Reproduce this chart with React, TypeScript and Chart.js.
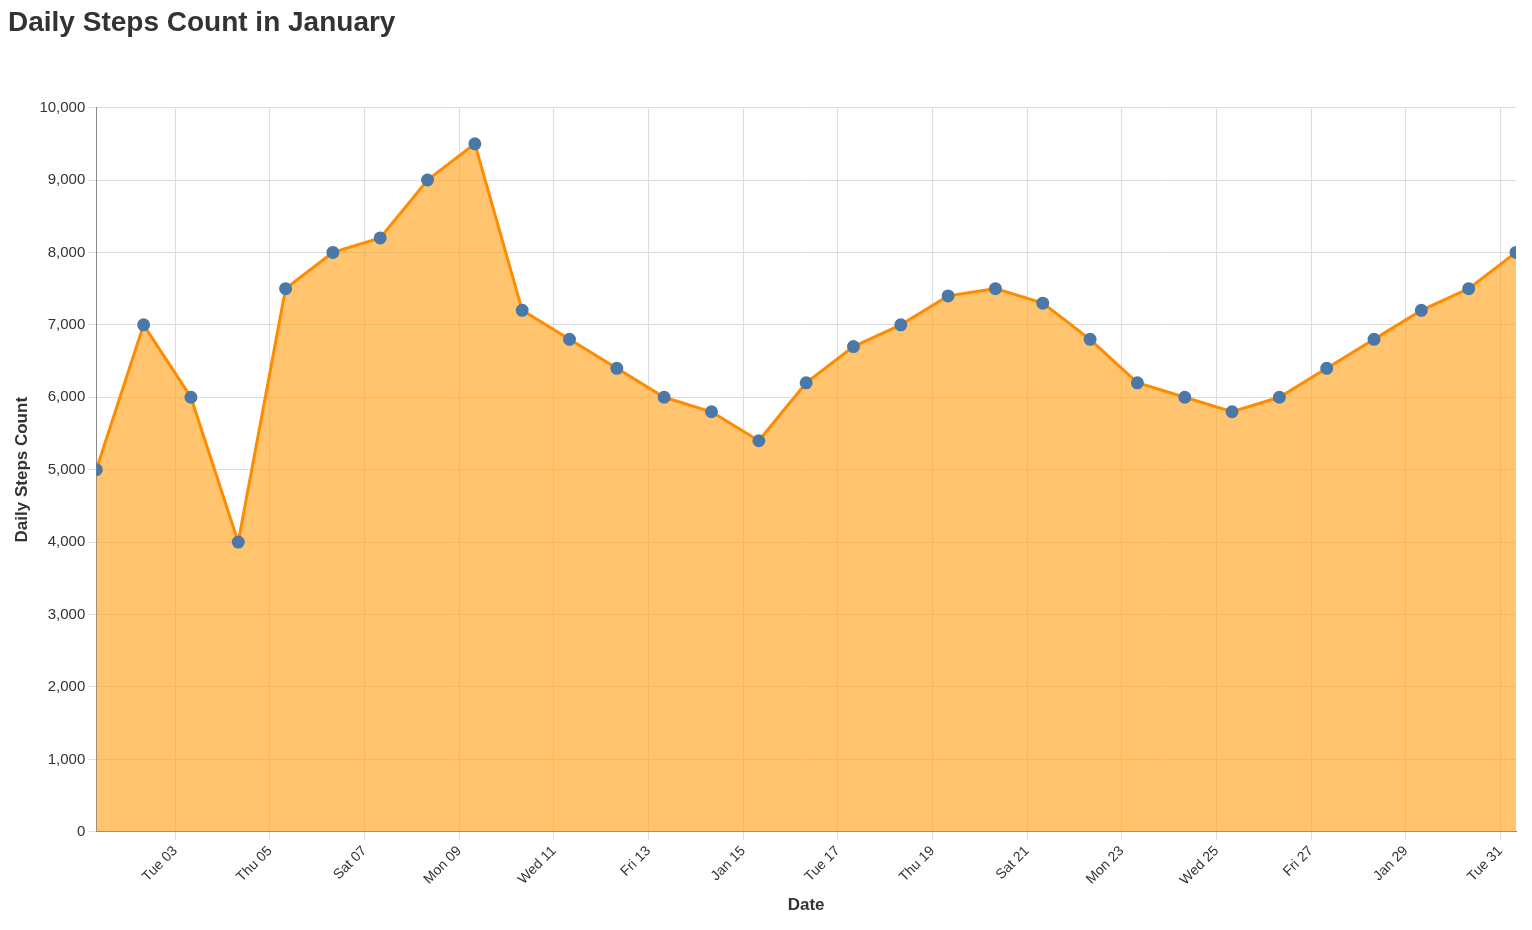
import React, { useEffect, useRef } from "react";
import { Chart, registerables } from "chart.js";

Chart.register(...registerables);

// Jan 1 .. Jan 31
const steps = [
  5000, 7000, 6000, 4000, 7500, 8000, 8200, 9000, 9500, 7200, 6800, 6400, 6000, 5800, 5400, 6200,
  6700, 7000, 7400, 7500, 7300, 6800, 6200, 6000, 5800, 6000, 6400, 6800, 7200, 7500, 8000,
];
const tickDays = [3, 5, 7, 9, 11, 13, 15, 17, 19, 21, 23, 25, 27, 29, 31];
const tickLabels = [
  "Tue 03", "Thu 05", "Sat 07", "Mon 09", "Wed 11", "Fri 13", "Jan 15", "Tue 17",
  "Thu 19", "Sat 21", "Mon 23", "Wed 25", "Fri 27", "Jan 29", "Tue 31",
];
const TICK_SHIFT = 0.33; // labels sit at local midnight, points at UTC

export default function App() {
  const chartRef = useRef<HTMLCanvasElement | null>(null);

  useEffect(() => {
    document.body.style.margin = "0";
    if (!chartRef.current) return;
    const font = "'Helvetica Neue', Arial, 'Liberation Sans', sans-serif";
    const chart = new Chart(chartRef.current, {
      type: "line",
      data: {
        datasets: [
          {
            data: steps.map((v, i) => ({ x: i, y: v })),
            borderColor: "#ff8c00",
            borderWidth: 3,
            backgroundColor: "rgba(255, 165, 30, 0.65)",
            fill: "origin",
            tension: 0,
            pointRadius: 5,
            pointBackgroundColor: "#4c78a8",
            pointBorderColor: "#4c78a8",
          },
        ],
      },
      options: {
        animation: false,
        responsive: false,
        layout: { padding: { left: 8, right: 16, top: 0, bottom: 10 } },
        plugins: {
          legend: { display: false },
          tooltip: { enabled: false },
          title: {
            display: true,
            text: "Daily Steps Count in January",
            align: "start",
            color: "#333",
            font: { family: font, size: 28, weight: "bold" },
            padding: { top: 6, bottom: 68 },
          },
        },
        scales: {
          x: {
            type: "linear",
            min: 0,
            max: 30,
            afterBuildTicks: (axis) => {
              axis.ticks = tickDays.map((d) => ({ value: d - 1 - TICK_SHIFT }));
            },
            ticks: {
              autoSkip: false,
              maxRotation: 45,
              minRotation: 45,
              color: "#333",
              font: { family: font, size: 14 },
              callback: (_v, i) => tickLabels[i],
            },
            grid: { color: "#ddd", tickLength: 8 },
            border: { color: "#888" },
            title: {
              display: true,
              text: "Date",
              color: "#333",
              font: { family: font, size: 17, weight: "bold" },
            },
          },
          y: {
            min: 0,
            max: 10000,
            ticks: {
              stepSize: 1000,
              color: "#333",
              font: { family: font, size: 15 },
              callback: (v) => Number(v).toLocaleString("en-US"),
            },
            grid: { color: "#ddd", tickLength: 8 },
            border: { color: "#888" },
            title: {
              display: true,
              text: "Daily Steps Count",
              color: "#333",
              font: { family: font, size: 17, weight: "bold" },
            },
          },
        },
      },
    });
    return () => chart.destroy();
  }, []);

  return (
    <div style={{ width: 1532, height: 930 }}>
      <canvas ref={chartRef} width={1532} height={930} />
    </div>
  );
}
